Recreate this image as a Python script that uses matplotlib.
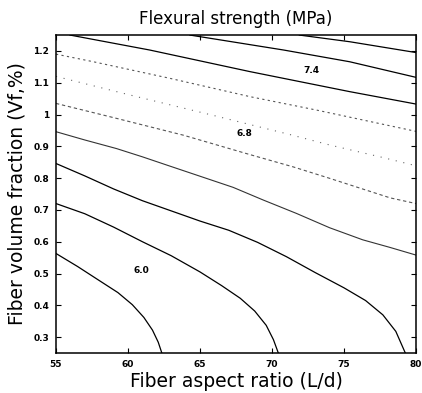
import matplotlib.pyplot as plt

# contour levels (MPa) and the traced iso-lines
levels = [5.8, 6.0, 6.2, 6.4, 6.6, 6.8, 7.0, 7.2, 7.4, 7.6]

x58 = [55.0, 56.5, 58.0, 59.3, 60.3, 61.1, 61.7, 62.1, 62.35]
y58 = [0.563, 0.522, 0.478, 0.440, 0.402, 0.362, 0.322, 0.284, 0.25]

x60 = [55.0, 57.0, 59.0, 61.0, 63.0, 65.0, 66.5, 67.8, 68.8, 69.6, 70.1, 70.44]
y60 = [0.720, 0.688, 0.646, 0.600, 0.556, 0.505, 0.462, 0.422, 0.382, 0.337,
       0.292, 0.25]

x62 = [55.0, 57.0, 59.0, 61.0, 63.0, 65.0, 67.0, 69.0, 71.0, 73.0, 75.0,
       76.5, 77.7, 78.6, 79.26]
y62 = [0.846, 0.807, 0.766, 0.729, 0.697, 0.665, 0.636, 0.598, 0.553, 0.503,
       0.455, 0.415, 0.370, 0.318, 0.25]

x64 = [55.0, 57.0, 59.2, 61.0, 62.7, 65.0, 67.3, 69.4, 71.7, 74.0, 76.3, 78.2, 80.0]
y64 = [0.946, 0.920, 0.893, 0.867, 0.841, 0.806, 0.771, 0.731, 0.689, 0.644,
       0.606, 0.582, 0.558]

x66 = [55.0, 59.2, 63.85, 68.47, 71.5, 74.03, 78.2, 80.0]
y66 = [1.035, 0.988, 0.935, 0.874, 0.835, 0.799, 0.738, 0.720]

x68 = [55.0, 60.0, 66.04, 71.25, 74.03, 77.5, 80.0]
y68 = [1.120, 1.063, 0.996, 0.937, 0.904, 0.867, 0.839]

x70 = [55.0, 57.6, 62.9, 68.5, 73.1, 79.6, 80.0]
y70 = [1.190, 1.166, 1.114, 1.056, 1.014, 0.951, 0.947]

x72 = [55.97, 61.5, 68.47, 75.4, 80.0]
y72 = [1.25, 1.203, 1.135, 1.072, 1.033]

x74 = [64.3, 70.8, 75.4, 80.0]
y74 = [1.25, 1.203, 1.166, 1.117]

x76 = [71.9, 75.4, 80.0]
y76 = [1.25, 1.229, 1.195]

xs = [x58, x60, x62, x64, x66, x68, x70, x72, x74, x76]
ys = [y58, y60, y62, y64, y66, y68, y70, y72, y74, y76]

label_text = ["6.0", "6.8", "7.4"]
label_x = [60.95, 68.1, 72.75]
label_y = [0.509, 0.94, 1.14]

xticks = [55, 60, 65, 70, 75, 80]
yticks = [0.3, 0.4, 0.5, 0.6, 0.7, 0.8, 0.9, 1.0, 1.1, 1.2]
yticklabels = ["0.3", "0.4", "0.5", "0.6", "0.7", "0.8", "0.9", "1", "1.1", "1.2"]

# scanned look: a few lines came out broken/faint
styles = {
    6.4: dict(color="#333333", ls="-", lw=0.8),
    6.6: dict(color="#555555", ls=(0, (3, 2.5)), lw=0.8),
    6.8: dict(color="#666666", ls=(0, (1, 6)), lw=0.8),
    7.0: dict(color="#555555", ls=(0, (2, 3)), lw=0.8),
}

fig = plt.figure(figsize=(4.22, 3.93), dpi=100)
ax = fig.add_axes([0.1327, 0.1018, 0.853, 0.809])

for lev, x, y in zip(levels, xs, ys):
    st = styles.get(lev, dict(color="black", ls="-", lw=0.9))
    ax.plot(x, y, color=st["color"], linestyle=st["ls"], lw=st["lw"])

for t, x, y in zip(label_text, label_x, label_y):
    ax.text(x, y, t, fontsize=6.5, fontweight="bold", ha="center", va="center")

ax.set_xlim(55, 80)
ax.set_ylim(0.25, 1.25)
ax.set_xticks(xticks)
ax.set_xticklabels([str(v) for v in xticks], fontsize=6.5, fontweight="bold")
ax.set_yticks(yticks)
ax.set_yticklabels(yticklabels, fontsize=6.5, fontweight="bold")
ax.tick_params(direction="in", length=3.5, width=0.8, top=True, right=True,
               pad=5)
for s in ax.spines.values():
    s.set_linewidth(1.1)

ax.set_title("Flexural strength (MPa)", fontsize=12, pad=8)
ax.set_xlabel("Fiber aspect ratio (L/d)", fontsize=13.5, labelpad=2)
ax.set_ylabel("Fiber volume fraction (Vf,%)", fontsize=13.5, labelpad=5)

fig.savefig("out.png", dpi=100)
